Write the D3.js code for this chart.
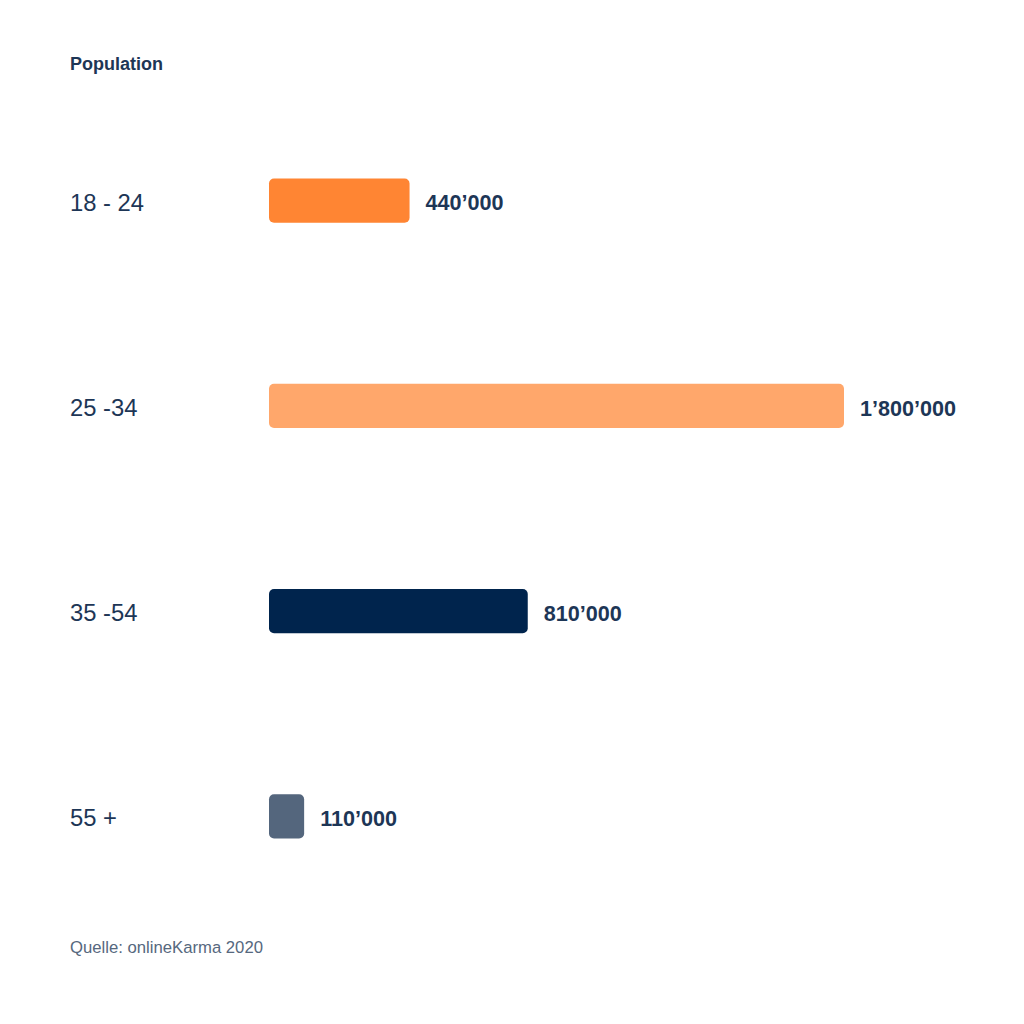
<!DOCTYPE html>
<html>
<head>
<meta charset="utf-8">
<script src="https://cdn.jsdelivr.net/npm/d3@7"></script>
<style>
  body { margin: 0; background: #fff; }
  svg { display: block; font-family: "Liberation Sans", Arial, Helvetica, sans-serif; }
</style>
</head>
<body>
<div id="chart"></div>
<script>
// DATA ////////////////////////////////////////////////////////////////////////
const categories = ["18 - 24", "25 -34", "35 -54", "55 +"];
const values = [440000, 1800000, 810000, 110000];
const valueLabels = ["440’000", "1’800’000", "810’000", "110’000"];
const barColors = ["#ff8533", "#ffa76b", "#00244d", "#54667d"];

// CHART ///////////////////////////////////////////////////////////////////////
const w = 1024, h = 1024;
const textColor = "#1d3656";

const svg = d3.select("#chart")
  .append("svg")
  .attr("width", w)
  .attr("height", h);

// x scale: bars start at 269, max value ends at 844
const x = d3.scaleLinear()
  .domain([0, 1800000])
  .range([269, 844]);

// y band: centres at 201, 406, 611, 816
const y = d3.scaleBand()
  .domain(categories)
  .range([98.5, 918.5])
  .paddingInner(0.785)
  .paddingOuter(0.39);

// title
svg.append("text")
  .attr("x", 70)
  .attr("y", 70)
  .attr("font-size", "18px")
  .attr("font-weight", "bold")
  .attr("fill", textColor)
  .text("Population");

const rows = svg.selectAll(".row")
  .data(categories)
  .enter()
  .append("g")
  .attr("class", "row");

// bars
rows.append("rect")
  .attr("x", x(0))
  .attr("y", d => y(d))
  .attr("width", (d, i) => x(values[i]) - x(0))
  .attr("height", y.bandwidth())
  .attr("rx", 5)
  .attr("ry", 5)
  .attr("fill", (d, i) => barColors[i]);

// category labels
rows.append("text")
  .attr("x", 70)
  .attr("y", d => y(d) + y.bandwidth() / 2)
  .attr("dy", "0.42em")
  .attr("font-size", "23.8px")
  .attr("fill", textColor)
  .text(d => d);

// value labels
rows.append("text")
  .attr("x", (d, i) => x(values[i]) + 16)
  .attr("y", d => y(d) + y.bandwidth() / 2)
  .attr("dy", "0.45em")
  .attr("font-size", "21.6px")
  .attr("font-weight", "bold")
  .attr("fill", textColor)
  .text((d, i) => valueLabels[i]);

// source
svg.append("text")
  .attr("x", 70)
  .attr("y", 953)
  .attr("font-size", "16.7px")
  .attr("fill", "#56687e")
  .text("Quelle: onlineKarma 2020");
</script>
</body>
</html>
